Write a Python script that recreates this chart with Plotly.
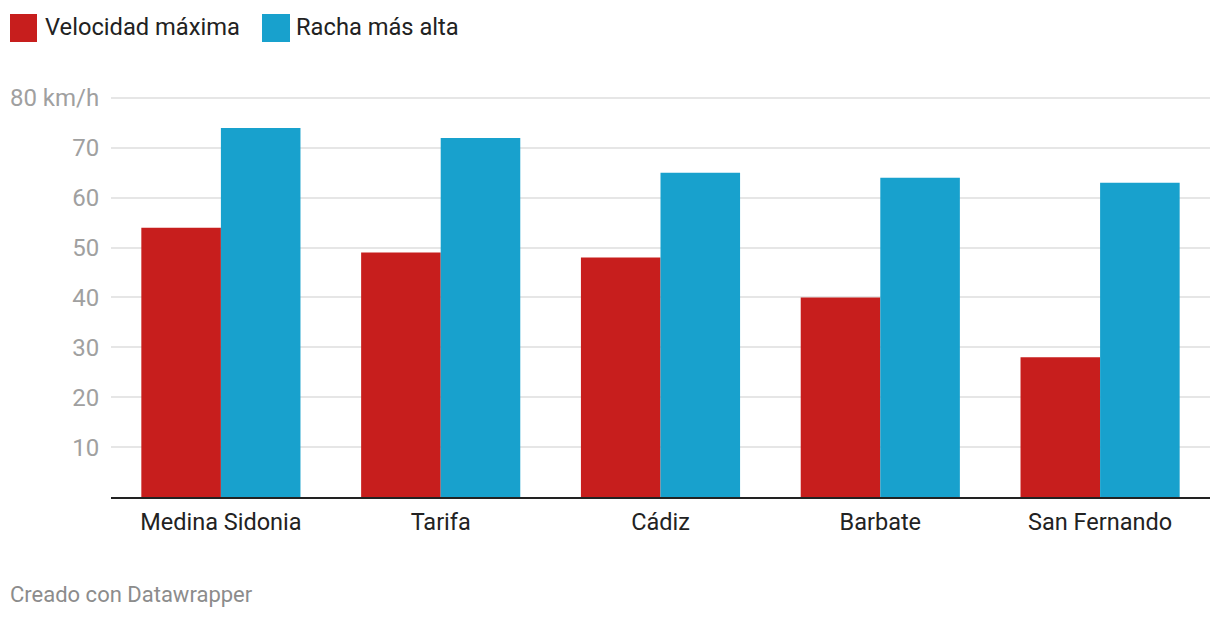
import plotly.graph_objects as go

categories = ["Medina Sidonia", "Tarifa", "Cádiz", "Barbate", "San Fernando"]
velocidad_maxima = [54, 49, 48, 40, 28]
racha_mas_alta = [74, 72, 65, 64, 63]
series_names = ["Velocidad máxima", "Racha más alta"]
tick_vals = [10, 20, 30, 40, 50, 60, 70, 80]
tick_text = ["10", "20", "30", "40", "50", "60", "70", "80 km/h"]

RED = "#c71e1d"
BLUE = "#18a1cd"
FONT = "Roboto"

fig = go.Figure()
fig.add_trace(go.Bar(x=categories, y=velocidad_maxima, name=series_names[0],
                     marker=dict(color=RED, line=dict(width=0)), hoverinfo="x+y"))
fig.add_trace(go.Bar(x=categories, y=racha_mas_alta, name=series_names[1],
                     marker=dict(color=BLUE, line=dict(width=0)), hoverinfo="x+y"))

L, T, B = 111, 93, 123
PW, PH = 1099, 620 - T - B
BASE = 620 - B

fig.update_layout(
    width=1220, height=620,
    margin=dict(l=L, r=10, t=T, b=B),
    paper_bgcolor="white", plot_bgcolor="white",
    barmode="group", bargap=0.276, bargroupgap=0,
    showlegend=False,
    font=dict(family=FONT, size=23, color="#222222"),
    xaxis=dict(
        type="category", range=[-0.5, 4.5],
        showgrid=False, showline=True, linecolor="#222222", linewidth=2,
        ticks="outside", ticklen=3, tickcolor="rgba(0,0,0,0)",
        tickfont=dict(family=FONT, size=23.5, color="#222222"),
        fixedrange=True,
    ),
    yaxis=dict(
        range=[0, 81], tickvals=tick_vals, ticktext=tick_text,
        showgrid=True, gridcolor="#e6e6e6", gridwidth=1.5,
        zeroline=False, showline=False,
        ticks="outside", ticklen=6, tickcolor="rgba(0,0,0,0)",
        tickfont=dict(family=FONT, size=24, color="#a0a0a0"),
        fixedrange=True,
    ),
)

# Legend drawn as shapes + text
legend_items = [(10, 37, 43, series_names[0], RED), (262, 290, 294, series_names[1], BLUE)]
for x0, x1, tx, label, color in legend_items:
    fig.add_shape(type="rect", xref="paper", yref="paper",
                  x0=(x0 - L) / PW, x1=(x1 - L) / PW,
                  y0=(BASE - 42) / PH, y1=(BASE - 14) / PH,
                  fillcolor=color, line=dict(width=0), layer="above")
    fig.add_annotation(xref="paper", yref="paper",
                       x=(tx - L) / PW, y=(BASE - 27) / PH,
                       text=label, showarrow=False, xanchor="left", yanchor="middle",
                       font=dict(family=FONT, size=23.7, color="#222222"))

fig.add_annotation(xref="paper", yref="paper",
                   x=(8 - L) / PW, y=(BASE - 594) / PH,
                   text="Creado con Datawrapper", showarrow=False,
                   xanchor="left", yanchor="middle",
                   font=dict(family=FONT, size=22, color="#8c8c8c"))

fig.write_html("out.html", config={"displayModeBar": False})
